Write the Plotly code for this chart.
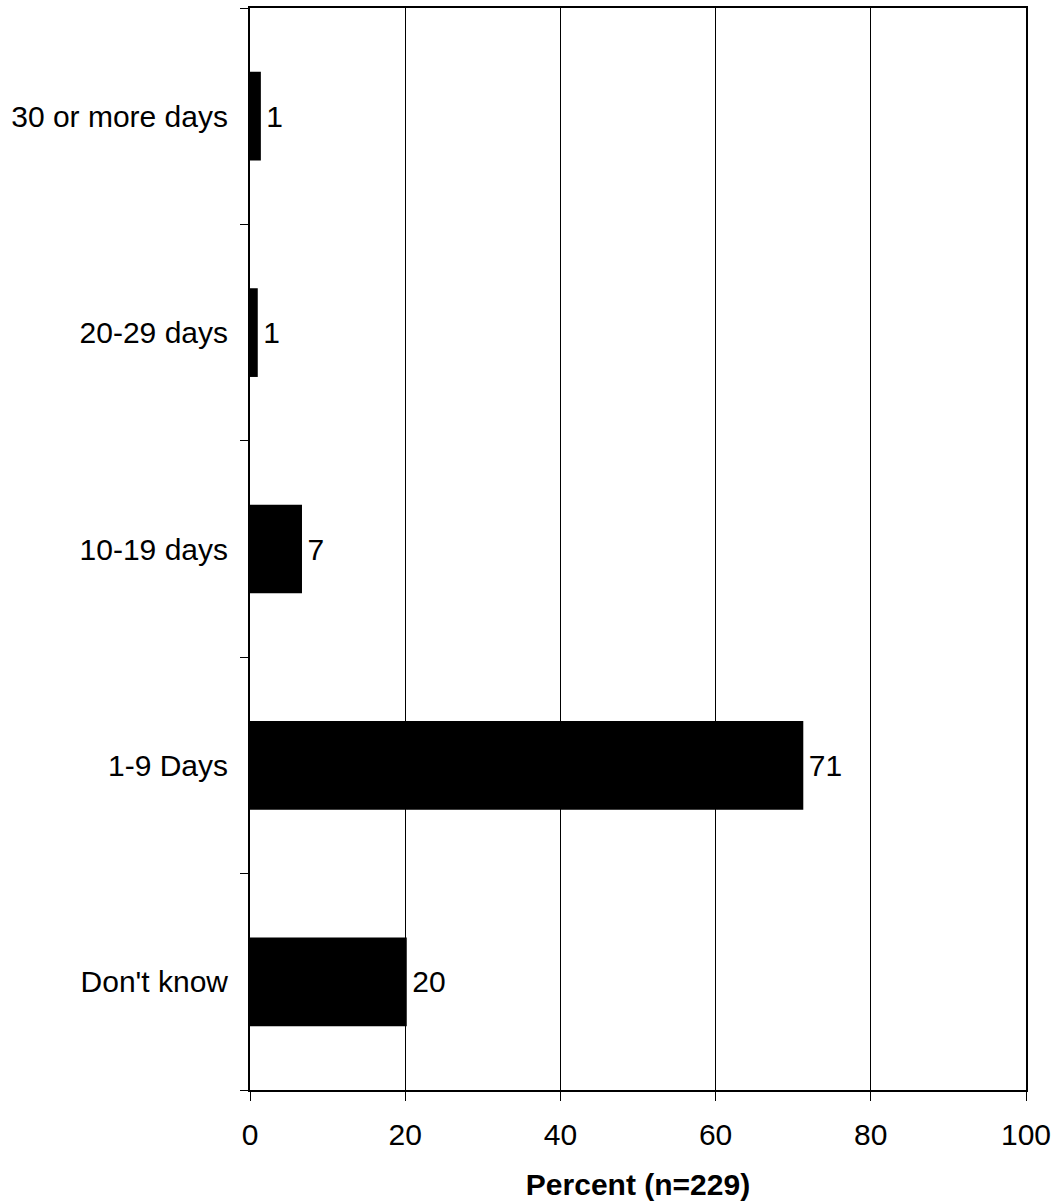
import plotly.graph_objects as go

categories = ["Don't know", "1-9 Days", "10-19 days", "20-29 days", "30 or more days"]
percent = [20.2, 71.3, 6.7, 1.0, 1.4]
x_ticks = [0, 20, 40, 60, 80, 100]

FONT = "Liberation Sans, Arial, sans-serif"

fig = go.Figure(
    go.Bar(
        y=categories,
        x=percent,
        orientation="h",
        width=0.41,
        marker=dict(color="black", line=dict(width=0)),
        texttemplate="\u200a%{x:.0f}",
        textposition="outside",
        textfont=dict(family=FONT, size=30, color="black"),
        cliponaxis=False,
        hoverinfo="skip",
    )
)

fig.update_layout(
    width=1053,
    height=1202,
    margin=dict(l=250, r=27, t=8, b=112),
    plot_bgcolor="white",
    paper_bgcolor="white",
    showlegend=False,
    font=dict(family=FONT, size=30, color="black"),
    xaxis=dict(
        range=[0, 100],
        tickvals=x_ticks,
        ticks="outside",
        ticklen=9,
        tickwidth=1,
        tickcolor="black",
        showgrid=True,
        gridcolor="black",
        gridwidth=1,
        zeroline=False,
        showline=True,
        linecolor="black",
        linewidth=2,
        mirror=True,
        tickfont=dict(size=30),
        ticklabelstandoff=8,
        automargin=False,
        title=dict(text="<b>Percent (n=229)</b>", font=dict(size=30), standoff=24),
    ),
    yaxis=dict(
        categoryorder="array",
        categoryarray=categories,
        tickson="boundaries",
        ticks="outside",
        ticklen=8,
        tickwidth=1,
        tickcolor="black",
        showgrid=False,
        zeroline=False,
        showline=True,
        linecolor="black",
        linewidth=2,
        mirror=True,
        tickfont=dict(size=30),
        ticklabelstandoff=14,
        automargin=False,
    ),
    bargap=0.59,
)

fig.write_html(
    "out.html",
    config={"displayModeBar": False, "staticPlot": True},
    post_script="document.body.style.margin='0';document.body.style.overflow='hidden';",
)
